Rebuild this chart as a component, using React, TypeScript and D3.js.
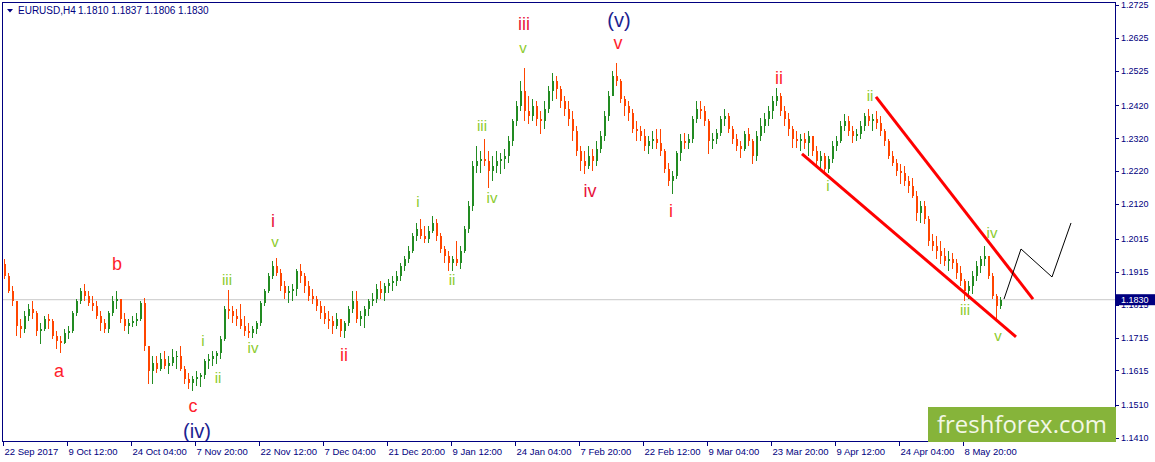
import React from 'react';
import * as d3 from 'd3';

const SYMBOL = 'EURUSD,H4';
const LAST_OHLC = ['1.1810', '1.1837', '1.1806', '1.1830'];
const CURRENT_PRICE = 1.183;

// 16-hour bars, values are pips above 1.0000 (1954 -> 1.1954)
const FIRST_OPEN = 1939;
const HIGHS = [
  1954, 1912, 1872, 1827, 1772, 1797, 1818, 1827, 1797, 1760, 1781, 1787, 1772, 1736, 1721, 1742, 1751, 1797, 1833, 1866,
  1879, 1857, 1842, 1827, 1797, 1772, 1797, 1842, 1857, 1833, 1790, 1772, 1781, 1790, 1827, 1836, 1690,
  1660, 1660, 1669, 1675, 1660, 1681, 1675, 1690, 1629, 1608, 1599, 1614, 1608, 1651, 1666, 1675, 1675, 1721, 1812, 1860,
  1812, 1803, 1818, 1781, 1760, 1751, 1766, 1827, 1863, 1912, 1948, 1957, 1924, 1888, 1872, 1879, 1924, 1939, 1912, 1888,
  1863, 1842, 1827, 1812, 1797, 1781, 1790, 1772, 1766, 1812, 1857, 1857, 1797, 1812, 1833, 1851, 1879, 1888, 1882, 1894,
  1903, 1918, 1942, 1964, 1994, 2033, 2064, 2076, 2055, 2055, 2085, 2076, 2033, 1994, 1979, 1964, 2009, 1994, 2055, 2131,
  2252, 2298, 2282, 2319, 2282, 2267, 2282, 2276, 2289, 2328, 2380, 2434, 2495, 2535, 2449, 2440, 2434, 2404, 2434, 2480,
  2519, 2510, 2480, 2449, 2434, 2404, 2358, 2298, 2282, 2298, 2289, 2313, 2343, 2404, 2465,
  2525, 2550, 2501, 2449, 2434, 2410, 2374, 2358, 2349, 2328, 2343, 2349, 2349, 2289, 2246, 2222, 2282, 2334, 2337, 2334,
  2389, 2434, 2434, 2419, 2380, 2337, 2349, 2389, 2410, 2398, 2358, 2334, 2313, 2343, 2352, 2319, 2343, 2383, 2398, 2419,
  2449, 2474, 2459, 2419, 2398, 2358, 2343, 2334, 2337, 2343,
  2328, 2298, 2282, 2276, 2267, 2313, 2328, 2374, 2395, 2389, 2358, 2349, 2374, 2398, 2410, 2395, 2404, 2389, 2349, 2319,
  2282, 2258, 2243, 2237, 2207, 2200, 2161, 2131, 2131, 2085, 2030, 2024, 2009, 1988, 1979, 1973, 1954, 1933, 1894, 1888,
  1918, 1948, 1964, 1994, 1964, 1912, 1848, 1839
];
const LOWS = [
  1894, 1851, 1812, 1721, 1715, 1730, 1766, 1772, 1721, 1696, 1736, 1742, 1711, 1681, 1669, 1696, 1711, 1730, 1781, 1818,
  1827, 1812, 1797, 1772, 1736, 1730, 1730, 1781, 1803, 1760, 1736, 1727, 1748, 1751, 1766, 1675, 1575,
  1575, 1608, 1614, 1620, 1605, 1629, 1620, 1614, 1575, 1560, 1554, 1569, 1566, 1590, 1620, 1629, 1636, 1651, 1705, 1772,
  1760, 1751, 1742, 1721, 1715, 1715, 1727, 1751, 1812, 1851, 1894, 1903, 1857, 1833, 1821, 1827, 1842, 1882, 1851, 1827,
  1818, 1797, 1772, 1757, 1742, 1727, 1742, 1718, 1715, 1751, 1790, 1760, 1751, 1745, 1781, 1812, 1821, 1833, 1827, 1851,
  1857, 1872, 1888, 1918, 1942, 1973, 2009, 2015, 2003, 2003, 2033, 2009, 1973, 1942, 1918, 1918, 1933, 1924, 1973, 2033,
  2100, 2216, 2216, 2237, 2170, 2191, 2216, 2213, 2228, 2246, 2298, 2358, 2404, 2374, 2364, 2374, 2358, 2334, 2349, 2398,
  2434, 2440, 2413, 2389, 2358, 2313, 2267, 2222, 2213, 2228, 2222, 2237, 2276, 2313, 2374,
  2449, 2480, 2428, 2389, 2374, 2337, 2313, 2313, 2282, 2273, 2289, 2289, 2267, 2216, 2176, 2152, 2197, 2252, 2289, 2289,
  2307, 2367, 2380, 2358, 2273, 2289, 2304, 2328, 2358, 2337, 2304, 2282, 2261, 2282, 2298, 2243, 2252, 2313, 2337, 2358,
  2380, 2419, 2389, 2358, 2328, 2292, 2292, 2282, 2289, 2267,
  2267, 2237, 2228, 2213, 2216, 2246, 2282, 2307, 2343, 2328, 2307, 2313, 2319, 2343, 2358, 2343, 2349, 2328, 2298, 2258,
  2237, 2207, 2182, 2176, 2155, 2140, 2070, 2064, 2061, 1994, 1979, 1954, 1939, 1933, 1918, 1924, 1894, 1872, 1827, 1833,
  1848, 1888, 1912, 1933, 1894, 1833, 1766, 1803
];
const CLOSES = [
  1903, 1857, 1827, 1751, 1742, 1781, 1803, 1790, 1736, 1742, 1772, 1766, 1721, 1705, 1700, 1730, 1736, 1790, 1827, 1857,
  1842, 1821, 1812, 1781, 1760, 1742, 1790, 1827, 1833, 1772, 1751, 1760, 1766, 1772, 1821, 1690, 1614,
  1639, 1620, 1651, 1629, 1639, 1657, 1660, 1620, 1590, 1578, 1590, 1596, 1602, 1645, 1651, 1660, 1669, 1711, 1803, 1797,
  1781, 1772, 1751, 1736, 1730, 1742, 1760, 1821, 1857, 1903, 1933, 1912, 1872, 1851, 1857, 1863, 1918, 1903, 1872, 1842,
  1833, 1812, 1790, 1772, 1766, 1751, 1772, 1736, 1760, 1803, 1827, 1772, 1781, 1803, 1827, 1833, 1863, 1851, 1872, 1882,
  1888, 1903, 1933, 1954, 1979, 2024, 2046, 2024, 2015, 2039, 2064, 2024, 1985, 1964, 1942, 1954, 1942, 1979, 2046, 2115,
  2237, 2252, 2258, 2252, 2222, 2237, 2252, 2258, 2267, 2313, 2374, 2419, 2465, 2404, 2389, 2419, 2380, 2374, 2410, 2465,
  2495, 2471, 2434, 2410, 2380, 2343, 2282, 2252, 2237, 2267, 2252, 2289, 2328, 2389, 2449,
  2510, 2495, 2440, 2419, 2398, 2349, 2343, 2328, 2298, 2313, 2319, 2307, 2282, 2228, 2191, 2207, 2276, 2313, 2307, 2319,
  2380, 2410, 2404, 2374, 2313, 2319, 2337, 2380, 2389, 2349, 2319, 2298, 2289, 2334, 2313, 2267, 2328, 2358, 2380, 2404,
  2434, 2449, 2404, 2380, 2349, 2319, 2313, 2319, 2307, 2328,
  2282, 2252, 2267, 2228, 2258, 2298, 2313, 2358, 2374, 2343, 2328, 2334, 2358, 2389, 2374, 2380, 2367, 2343, 2313, 2267,
  2246, 2222, 2216, 2191, 2176, 2146, 2094, 2115, 2076, 2009, 1994, 1979, 1964, 1948, 1954, 1942, 1912, 1888, 1857, 1872,
  1903, 1933, 1954, 1964, 1903, 1842, 1812, 1830
];

// one label every 16 bars
const DATE_LABELS = [
  '22 Sep 2017', '9 Oct 12:00', '24 Oct 04:00', '7 Nov 20:00', '22 Nov 12:00', '7 Dec 04:00', '21 Dec 20:00', '9 Jan 12:00',
  '24 Jan 04:00', '7 Feb 20:00', '22 Feb 12:00', '9 Mar 04:00', '23 Mar 20:00', '9 Apr 12:00', '24 Apr 04:00', '8 May 20:00'
];
const PRICE_TICKS = [1.2725, 1.2625, 1.2525, 1.242, 1.232, 1.222, 1.212, 1.2015, 1.1915, 1.1815, 1.1715, 1.1615, 1.151, 1.141];

// [text, bar index, price at baseline, style]
const WAVE_LABELS: [string, number, number, string][] = [
  ['a', 14, 1.1595, 'red'],
  ['b', 28.5, 1.192, 'red'],
  ['c', 47.5, 1.1489, 'red'],
  ['(iv)', 48.5, 1.141, 'navy'],
  ['i', 50, 1.1689, 'green'],
  ['ii', 53.75, 1.1577, 'green'],
  ['iii', 56, 1.1875, 'green'],
  ['iv', 62.5, 1.1668, 'green'],
  ['v', 68, 1.199, 'green'],
  ['i', 67.5, 1.2051, 'crimson'],
  ['ii', 85.25, 1.1644, 'red'],
  ['i', 103.75, 1.2112, 'green'],
  ['ii', 112.25, 1.1875, 'green'],
  ['iii', 119.75, 1.2342, 'green'],
  ['iv', 122.25, 1.2124, 'green'],
  ['v', 130, 1.2579, 'green'],
  ['iii', 130.25, 1.2649, 'crimson'],
  ['iv', 146.75, 1.2142, 'crimson'],
  ['(v)', 154, 1.2658, 'navy'],
  ['v', 153.75, 1.2591, 'red'],
  ['i', 167, 1.2081, 'red'],
  ['ii', 194, 1.2485, 'red'],
  ['i', 206.25, 1.216, 'green'],
  ['ii', 216.75, 1.2433, 'green'],
  ['iii', 240.5, 1.1784, 'green'],
  ['iv', 247.25, 1.2017, 'green'],
  ['v', 248.75, 1.1705, 'green']
];

const CHANNEL_UPPER: [number, number][] = [[218.25, 1.2446], [257.5, 1.1832]];
const CHANNEL_LOWER: [number, number][] = [[199.75, 1.2273], [253.25, 1.1717]];
const PROJECTION: [number, number][] = [[250.25, 1.1832], [254.5, 1.1984], [262.25, 1.1899], [267, 1.2063]];

const LABEL_STYLE: Record<string, { fill: string; size: number }> = {
  green: { fill: '#8CCB2C', size: 15 },
  red: { fill: '#FF1E2D', size: 18 },
  crimson: { fill: '#E8143C', size: 18 },
  navy: { fill: '#1C2290', size: 20 }
};

const W = 1155;
const H = 462;
const PLOT_RIGHT = 1115;
const PLOT_BOTTOM = 441;
const AXIS_COLOR = '#000080';
const UP = '#228B22';
const DOWN = '#FF4500';
const FONT = '"Liberation Sans", Arial, sans-serif';

const toPrice = (v: number) => 1 + v / 10000;

export default function App() {
  const x = d3.scaleLinear().domain([0, CLOSES.length]).range([3, 1003]);
  const y = d3.scaleLinear().domain([1.141, 1.2725]).range([438, 5]);
  const line = d3
    .line<[number, number]>()
    .x((d) => x(d[0]))
    .y((d) => y(d[1]));

  const bars = CLOSES.map((c, i) => {
    const o = i === 0 ? FIRST_OPEN : CLOSES[i - 1];
    const hi = Math.max(HIGHS[i], o, c);
    const lo = Math.min(LOWS[i], o, c);
    return { i, o: toPrice(o), c: toPrice(c), hi: toPrice(hi), lo: toPrice(lo) };
  });

  return (
    <svg width={W} height={H} style={{ display: 'block', background: '#fff' }} fontFamily={FONT}>
      <style>{'body{margin:0}'}</style>

      {/* current price line */}
      <line x1={3} x2={PLOT_RIGHT} y1={y(CURRENT_PRICE)} y2={y(CURRENT_PRICE)} stroke="#C8C8C8" strokeWidth={1} />

      {/* candles */}
      <g shapeRendering="crispEdges">
        {bars.map((b) => {
          const color = b.c > b.o ? UP : b.c < b.o ? DOWN : '#000';
          const x0 = x(b.i);
          const top = y(Math.max(b.o, b.c));
          const bot = y(Math.min(b.o, b.c));
          return (
            <g key={b.i}>
              <line x1={x0 + 1.5} x2={x0 + 1.5} y1={y(b.hi)} y2={y(b.lo)} stroke={color} strokeWidth={1} />
              <rect x={x0 + 0.5} y={top} width={2.5} height={Math.max(1, bot - top)} fill={color} />
            </g>
          );
        })}
      </g>

      {/* channel and projection */}
      <path d={line(CHANNEL_UPPER) || ''} stroke="#FF0000" strokeWidth={3} fill="none" />
      <path d={line(CHANNEL_LOWER) || ''} stroke="#FF0000" strokeWidth={3} fill="none" />
      <path d={line(PROJECTION) || ''} stroke="#000" strokeWidth={1} fill="none" />

      {/* wave labels */}
      {WAVE_LABELS.map(([t, bi, p, s], k) => (
        <text
          key={k}
          x={x(bi)}
          y={y(p)}
          textAnchor="middle"
          fontSize={LABEL_STYLE[s].size}
          fill={LABEL_STYLE[s].fill}
        >
          {t}
        </text>
      ))}

      {/* frame */}
      <rect x={2.5} y={2.5} width={PLOT_RIGHT - 2} height={PLOT_BOTTOM - 2} fill="none" stroke={AXIS_COLOR} strokeWidth={1} />

      {/* title */}
      <path d="M7,9 L13,9 L10,12.5 Z" fill={AXIS_COLOR} />
      <text x={18} y={14} fontSize={10} fill={AXIS_COLOR}>
        {SYMBOL}
      </text>
      <text x={78} y={14} fontSize={10} fill={AXIS_COLOR}>
        {LAST_OHLC.join(' ')}
      </text>

      {/* price axis */}
      <g fontSize={9} fill={AXIS_COLOR}>
        {PRICE_TICKS.map((p) => (
          <g key={p}>
            <line x1={PLOT_RIGHT} x2={PLOT_RIGHT + 4} y1={Math.round(y(p)) + 0.5} y2={Math.round(y(p)) + 0.5} stroke={AXIS_COLOR} />
            <text x={1121} y={y(p)} dy="0.35em">
              {p.toFixed(4)}
            </text>
          </g>
        ))}
      </g>
      <rect x={PLOT_RIGHT + 1} y={y(CURRENT_PRICE) - 5.5} width={W - PLOT_RIGHT - 1} height={11} fill="#000080" />
      <text x={1121} y={y(CURRENT_PRICE)} dy="0.35em" fontSize={9} fill="#fff">
        {CURRENT_PRICE.toFixed(4)}
      </text>

      {/* time axis */}
      <g fontSize={9.5} fill={AXIS_COLOR}>
        {DATE_LABELS.map((d, k) => {
          const tx = Math.round(x(k * 16)) + 0.5;
          return (
            <g key={d}>
              <line x1={tx} x2={tx} y1={PLOT_BOTTOM} y2={PLOT_BOTTOM + 5} stroke={AXIS_COLOR} />
              <text x={tx + 1} y={455}>
                {d}
              </text>
            </g>
          );
        })}
      </g>

      {/* logo */}
      <rect x={928} y={407} width={PLOT_RIGHT + 1 - 928} height={PLOT_BOTTOM + 1 - 407} fill="#86B43A" />
      <text x={937} y={433} fontSize={24} fill="#F2F7E6" fontFamily='"Open Sans", sans-serif' textLength={170} lengthAdjust="spacingAndGlyphs">
        freshforex.com
      </text>
    </svg>
  );
}
